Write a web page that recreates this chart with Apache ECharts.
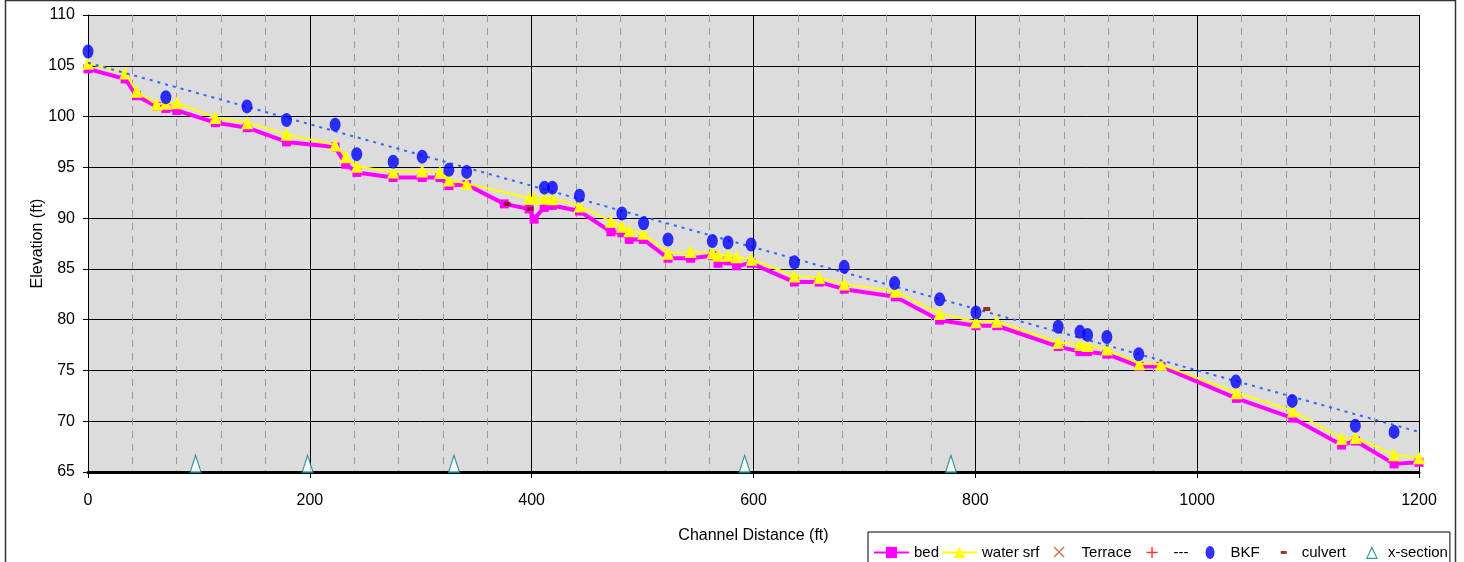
<!DOCTYPE html>
<html>
<head>
<meta charset="utf-8">
<script src="https://cdn.jsdelivr.net/npm/echarts@6/dist/echarts.min.js"></script>
<style>
  html, body { margin: 0; padding: 0; background: #fff; }
  #chart { width: 1464px; height: 562px; }
</style>
</head>
<body>
<div id="chart"></div>
<script>
// profile data (channel distance ft, elevation ft)
const bedX = [0, 33.5, 43.7, 61.8, 70.2, 80.1, 114.8, 143.6, 179, 222.8, 232.3, 242.4, 275.1, 301.3, 317.3,
  325.4, 341.4, 375.3, 397.7, 402.2, 411.2, 418.7, 443.1, 471.4, 481.3, 488, 500.6, 522.9, 543.3, 562.9,
  568, 577, 584.8, 598.1, 636.9, 659.2, 681.8, 727.8, 767.8, 800.6, 819.3, 874.7, 894.3, 901.2, 918.6,
  947.8, 967.4, 1035.4, 1086.3, 1130.2, 1142.8, 1177.5, 1200];
const bedY = [104.7, 103.7, 102.05, 101.0, 100.8, 100.6, 99.4, 98.9, 97.5, 97.0, 95.3, 94.5, 94.0, 94.0, 94.0,
  93.2, 93.3, 91.4, 90.9, 89.9, 91.05, 91.25, 90.7, 88.65, 88.55, 87.9, 87.9, 86.05, 86.05, 86.3,
  85.55, 85.8, 85.3, 85.55, 83.7, 83.7, 83.0, 82.25, 79.95, 79.4, 79.4, 77.35, 76.85, 76.85, 76.6,
  75.4, 75.4, 72.25, 70.3, 67.65, 68.05, 65.8, 65.95];

const waterX = [0, 33.5, 43.7, 61.8, 70.2, 80.1, 114.8, 143.6, 179, 222.8, 232.3, 242.4, 275.1, 301.3, 317.3,
  325.4, 341.4, 397.7, 402.2, 411.2, 418.7, 443.1, 471.4, 481.3, 488, 500.6, 522.9, 543.3, 562.9,
  568, 577, 584.8, 598.1, 636.9, 659.2, 681.8, 727.8, 767.8, 800.6, 819.3, 874.7, 894.3, 901.2, 918.6,
  947.8, 967.4, 1035.4, 1086.3, 1130.2, 1142.8, 1177.5, 1200];
const waterY = [105.25, 104.3, 102.5, 101.2, 101.3, 101.35, 99.9, 99.4, 98.25, 97.2, 96.05, 95.1, 94.55, 94.65, 94.5,
  93.75, 93.4, 91.95, 91.95, 91.95, 91.9, 91.2, 89.7, 89.2, 88.75, 88.5, 86.55, 86.7, 86.6,
  86.35, 86.35, 86.2, 85.95, 84.3, 84.15, 83.5, 82.8, 80.6, 79.8, 79.85, 77.75, 77.55, 77.45, 77.1,
  75.65, 75.6, 72.8, 71.0, 68.3, 68.4, 66.7, 66.4];

const bkfX = [0, 70.2, 143.3, 179, 222.8, 242.3, 275.1, 301.3, 325.4, 341.4, 411.5, 418.7, 443.1, 481.3, 500.9,
  522.9, 562.9, 577, 597.8, 636.9, 681.8, 727.2, 767.8, 800.6, 874.7, 894.3, 901.2, 918.6, 947.3, 1034.9,
  1085.7, 1142.6, 1177.5];
const bkfY = [106.4, 101.9, 101.0, 99.65, 99.2, 96.3, 95.55, 96.05, 94.75, 94.55, 93.0, 93.0, 92.2, 90.45, 89.5,
  87.9, 87.75, 87.6, 87.4, 85.65, 85.2, 83.6, 82.0, 80.7, 79.3, 78.8, 78.5, 78.3, 76.6, 73.9,
  72.0, 69.55, 68.95];

// linear trend of BKF (ends as drawn)
const trendX = [0, 1200];
const trendY = [105.3, 68.95];

const culvertX = [377.8, 398.6, 810.3];
const culvertY = [91.4, 90.9, 81.05];

const xsecX = [97, 198, 330, 592, 778];
const xsecY = [65.8, 65.8, 65.8, 65.8, 65.8];

const xTicks = { min: 0, max: 1200, step: 200 };
const yTicks = { min: 65, max: 110, step: 5 };

const FONT = "'Liberation Sans', Arial, sans-serif";

const pairs = (xs, ys) => xs.map((x, i) => [x, ys[i]]);

// legend icons, padded to a 35x14 box so they sit where the original ones do
const icons = {
  terrace: 'path://M0,0M35,14M12,2L13,1L17.5,5.5L22,1L23,2L18.5,6.5L23,11L22,12L17.5,7.5L13,12L12,11L16.5,6.5Z',
  plus: 'path://M0,0M35,14M17.8,1.5h1.4v4.8h4.8v1.4h-4.8v4.8h-1.4v-4.8h-4.8v-1.4h4.8z',
  bkf: 'path://M0,0M35,14M19.5,0.5C21.99,0.5 24,3.41 24,7C24,10.59 21.99,13.5 19.5,13.5C17.01,13.5 15,10.59 15,7C15,3.41 17.01,0.5 19.5,0.5Z',
  culvert: 'path://M0,0M35,14M19,5.5h6v3h-6z',
  xsec: 'path://M0,0M35,14M24,0.5L30,13.5L18,13.5ZM24,3.4L19.7,12.3L28.3,12.3Z',
};

const chart = echarts.init(document.getElementById('chart'), null, { renderer: 'canvas' });

chart.setOption({
  animation: false,
  backgroundColor: '#fff',
  textStyle: { fontFamily: FONT, color: '#000' },
  grid: {
    left: 88,
    right: 45,
    top: 15,
    bottom: 90,
    show: true,
    backgroundColor: '#DCDCDC',
    borderWidth: 0,
  },
  graphic: [{
    type: 'rect',
    left: 3,
    top: -2,
    shape: { width: 1450, height: 570 },
    style: { fill: 'none', stroke: '#333', lineWidth: 1.5 },
    silent: true,
    z: 100,
  }],
  xAxis: {
    type: 'value',
    min: xTicks.min,
    max: xTicks.max,
    interval: xTicks.step,
    name: 'Channel Distance (ft)',
    nameLocation: 'middle',
    nameGap: 56,
    nameMoveOverlap: false,
    nameTextStyle: { fontFamily: FONT, fontSize: 16, color: '#000' },
    axisLine: { show: true, onZero: false, lineStyle: { color: '#000', width: 3 } },
    axisTick: { show: true, length: 6, lineStyle: { color: '#000' } },
    axisLabel: { margin: 21, fontFamily: FONT, fontSize: 16, color: '#000', formatter: v => String(v) },
    splitLine: { show: true, lineStyle: { color: '#000', width: 1 } },
    minorTick: { show: false, splitNumber: 5 },
    minorSplitLine: { show: true, lineStyle: { color: '#999', width: 1, type: [7, 6] } },
  },
  yAxis: {
    type: 'value',
    min: yTicks.min,
    max: yTicks.max,
    interval: yTicks.step,
    name: 'Elevation (ft)',
    nameLocation: 'middle',
    nameGap: 42,
    nameMoveOverlap: false,
    nameTextStyle: { fontFamily: FONT, fontSize: 16, color: '#000' },
    axisLine: { show: true, onZero: false, lineStyle: { color: '#000', width: 1 } },
    axisTick: { show: true, length: 5, lineStyle: { color: '#000' } },
    axisLabel: { margin: 13, fontFamily: FONT, fontSize: 16, color: '#000' },
    splitLine: { show: true, lineStyle: { color: '#000', width: 1 } },
  },
  legend: {
    left: 868,
    top: 532,
    padding: [13, 2, 20, 5],
    backgroundColor: '#fff',
    borderColor: '#000',
    borderWidth: 1,
    itemWidth: 35,
    itemHeight: 14,
    itemGap: 2,
    selectedMode: false,
    textStyle: { fontFamily: FONT, fontSize: 15, color: '#000' },
    data: [
      { name: 'bed' },
      { name: 'water srf' },
      { name: 'Terrace', icon: icons.terrace },
      { name: '---', icon: icons.plus },
      { name: 'BKF', icon: icons.bkf },
      { name: 'culvert', icon: icons.culvert },
      { name: 'x-section', icon: icons.xsec, itemStyle: { color: '#008080', borderWidth: 0 } },
    ],
  },
  series: [
    {
      name: 'x-section',
      type: 'scatter',
      data: pairs(xsecX, xsecY),
      symbol: 'triangle',
      symbolSize: [11, 17],
      itemStyle: { color: '#fff', borderColor: '#008080', borderWidth: 1.3 },
      z: 3,
    },
    {
      name: 'bed',
      type: 'line',
      data: pairs(bedX, bedY),
      symbol: 'rect',
      symbolSize: 9,
      lineStyle: { color: '#FF00FF', width: 4 },
      itemStyle: { color: '#FF00FF' },
      z: 4,
    },
    {
      name: 'water srf',
      type: 'line',
      data: pairs(waterX, waterY),
      symbol: 'triangle',
      symbolSize: [12, 13],
      lineStyle: { color: '#FFFF00', width: 2 },
      itemStyle: { color: '#FFFF00' },
      z: 5,
    },
    {
      name: 'Terrace',
      type: 'scatter',
      data: [],
      itemStyle: { color: '#B5531F' },
    },
    {
      name: '---',
      type: 'scatter',
      data: [],
      itemStyle: { color: '#FF0000' },
    },
    {
      name: 'trend',
      type: 'line',
      data: pairs(trendX, trendY),
      symbol: 'none',
      lineStyle: { color: '#3366FF', width: 2, type: [3, 5] },
      z: 6,
    },
    {
      name: 'culvert',
      type: 'scatter',
      data: pairs(culvertX, culvertY),
      symbol: 'rect',
      symbolSize: [7, 4],
      itemStyle: { color: '#8B0000' },
      z: 7,
    },
    {
      name: 'BKF',
      type: 'scatter',
      data: pairs(bkfX, bkfY),
      symbol: 'circle',
      symbolSize: [11, 14],
      itemStyle: { color: '#0000FF' },
      z: 8,
    },
  ],
});
</script>
</body>
</html>
